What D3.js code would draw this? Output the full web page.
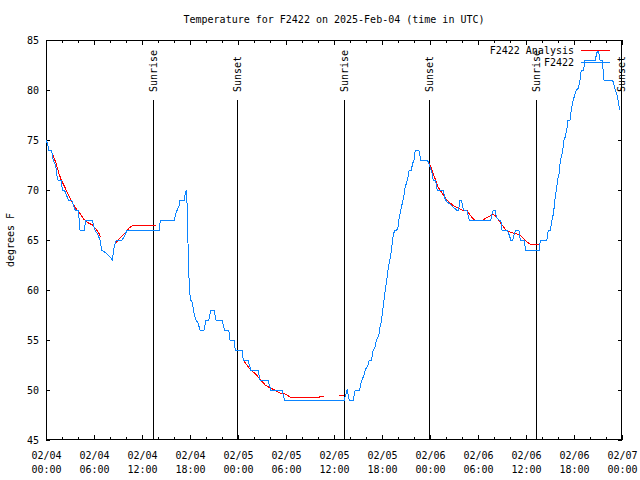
<!DOCTYPE html>
<html>
<head>
<meta charset="utf-8">
<script src="https://cdn.jsdelivr.net/npm/d3@7"></script>
<style>
  html, body { margin: 0; padding: 0; background: #fff; }
  svg { display: block; }
  text { font-family: "DejaVu Sans Mono", "Liberation Mono", monospace; font-size: 10px; fill: #000; }
</style>
</head>
<body>
<svg id="chart" width="640" height="480"></svg>
<script>
// ---------------- data (hours since 2025-02-04 00:00 UTC, degrees F) ----------------
const titleText = "Temperature for F2422 on 2025-Feb-04 (time in UTC)";
const yLabel = "degrees F";
const seriesNames = ["F2422 Analysis", "F2422"];
const yTicks = [45, 50, 55, 60, 65, 70, 75, 80, 85];
const majorTickHours = [0, 6, 12, 18, 24, 30, 36, 42, 48, 54, 60, 66, 72];
const minorTickHours = d3.range(0, 73, 2);
const sunEvents = [
  ["Sunrise", 13.4], ["Sunset", 23.9], ["Sunrise", 37.3],
  ["Sunset", 47.9], ["Sunrise", 61.3], ["Sunset", 71.9]
];

// observed F2422
const obsSeries = [
  [0.0,75],[0.2,74.6],[0.35,74],[0.7,74],[0.9,73],[1.2,72.5],[1.35,71.5],[1.5,71],[1.9,71],
  [2.05,70],[2.3,70],[2.55,69.5],[2.8,69],[3.2,69],[3.4,68.5],[3.65,68],[4.05,68],[4.25,66],
  [4.8,66],[4.95,67],[5.8,67],[5.95,66.5],[6.1,66],[6.45,65.6],[6.75,65],[6.95,64],[7.5,63.7],
  [8.0,63.3],[8.3,63],[8.45,64],[8.65,64.7],[8.8,65],[9.5,65],[9.9,65.5],[10.1,66],[14.15,66],
  [14.3,67],[16.05,67],[16.25,67.7],[16.4,68],[16.65,68.4],[16.75,69],[17.3,69],[17.4,69.7],
  [17.55,70],[17.65,68.3],[17.75,64.7],[17.85,62],[17.92,60],[18.1,59],[18.3,58.7],[18.5,57.7],
  [18.75,57],[19.0,56.7],[19.25,56],[19.75,56],[20.0,57],[20.35,57],[20.6,58],[21.0,58],
  [21.25,57],[22.0,57],[22.3,56],[22.85,56],[23.0,55],[23.5,55],[23.65,54],[24.5,54],[24.65,53],
  [25.25,53],[25.6,52],[26.5,52],[26.75,51],[27.75,51],[28.1,50],[29.5,50],[29.8,49],[37.3,49],
  [37.45,49.5],[37.65,50],[37.9,49],[38.4,49],[38.65,50],[39.2,50],[39.35,50.6],[39.5,51],
  [39.75,51.5],[39.9,52],[40.25,52.5],[40.4,53],[40.65,53],[40.8,53.5],[40.9,54],[41.15,54.3],
  [41.3,55],[41.6,55.5],[41.75,56.3],[41.9,56.8],[42.1,58],[42.25,59],[42.4,60],[42.6,61],
  [42.75,62],[42.9,62.7],[43.1,63.5],[43.25,64.5],[43.4,65.5],[43.6,66],[43.85,66],[44.0,66.3],
  [44.15,67.2],[44.35,68],[44.6,68.9],[44.75,69.5],[44.9,70.3],[45.1,70.8],[45.25,71.3],[45.4,72],
  [45.65,72],[45.85,72.7],[46.0,73],[46.15,74],[46.6,74],[46.85,73],[47.65,73],[47.85,72.7],
  [48.0,72.3],[48.25,71.7],[48.4,71],[48.65,71],[48.8,70.5],[48.9,70],[49.65,70],[49.85,69.2],
  [50.1,68.8],[50.5,68.6],[50.9,68.3],[51.3,68],[51.6,68],[51.7,69],[51.95,69],[52.1,68.2],
  [52.25,68],[52.6,68],[52.9,67],[55.6,67],[55.75,67.6],[55.9,68],[56.15,68],[56.3,67.3],
  [56.6,67],[56.85,67],[57.0,66],[57.65,66],[57.9,65.5],[58.1,65],[58.35,65],[58.55,65.6],
  [58.7,66],[59.1,66],[59.3,65],[59.75,65],[59.95,64],[61.65,64],[61.8,65],[62.6,65],[62.8,66],
  [63.05,66],[63.25,67],[63.45,67.7],[63.6,69],[63.8,70],[63.95,71],[64.15,71.7],[64.3,73],
  [64.55,73.7],[64.75,75],[64.9,75.3],[65.1,76],[65.25,77],[65.5,77],[65.65,78],[65.9,79],
  [66.3,80],[66.55,80.2],[66.75,81],[66.9,82],[67.2,82],[67.35,83],[68.65,83],[68.85,83.7],
  [69.0,84],[69.1,83.7],[69.25,83],[69.5,83],[69.6,82.3],[69.75,81],[70.8,81],[70.95,80.7],
  [71.15,80],[71.35,79.6],[71.5,79],[71.65,78.3],[71.75,78]
];

// analysis (null = gap)
const anaSeries = [
  [0.75,73.7],[1.25,72.7],[1.6,71.7],[1.9,71.0],[2.4,70.2],[3.0,69.2],[3.6,68.3],[4.2,67.7],
  [4.7,67.1],[5.3,66.7],[5.8,66.5],[6.25,66.1],[6.6,65.7],[6.8,65.3],[7.5,null],
  [8.7,64.7],[9.25,65.2],[9.9,65.7],[10.4,66.2],[10.75,66.4],[11.3,66.5],[13.8,66.5],[14.5,null],
  [24.75,52.9],[25.1,52.5],[25.6,52.0],[26.2,51.6],[26.75,51.1],[27.4,50.5],[28.0,50.2],
  [28.6,50.0],[29.25,49.7],[29.9,49.6],[30.5,49.3],[34.2,49.3],[34.75,49.4],[35.5,null],
  [36.65,49.5],[37.3,49.5],[38.0,null],
  [47.9,72.7],[48.3,71.9],[48.6,71.2],[49.0,70.3],[49.5,69.7],[50.0,69.1],[50.5,68.7],[51.0,68.4],
  [51.5,68.2],[52.0,68.0],[52.6,68.0],[53.0,67.5],[53.3,67.2],[53.6,67.0],[54.6,67.0],[55.0,67.2],
  [55.5,67.4],[55.9,67.6],[56.3,67.3],[56.75,66.8],[57.2,66.3],[57.6,65.9],[58.4,65.7],
  [59.25,65.5],[59.6,65.2],[60.1,64.8],[60.5,64.6],[61.7,64.6]
];

// ---------------- drawing ----------------
const t0 = Date.UTC(2025, 1, 4, 0, 0);
const toDate = h => new Date(t0 + h * 3600 * 1000);

const svg = d3.select("#chart");
const pLeft = 46, pRight = 622, pTop = 40, pBottom = 440;

const x = d3.scaleUtc().domain([toDate(0), toDate(72)]).range([pLeft, pRight]);
const y = d3.scaleLinear().domain([45, 85]).range([pBottom, pTop]);

// title
svg.append("text").attr("x", 334).attr("y", 23).attr("text-anchor", "middle").text(titleText);

// y label
svg.append("text")
  .attr("transform", "translate(14,240) rotate(-90)")
  .attr("text-anchor", "middle").text(yLabel);

const fmtDate = d3.utcFormat("%m/%d");
const fmtTime = d3.utcFormat("%H:%M");

// bottom axis major
const gB = svg.append("g").attr("transform", `translate(0,${pBottom})`)
  .call(d3.axisBottom(x).tickValues(majorTickHours.map(toDate)).tickSizeInner(-5).tickSizeOuter(0).tickFormat(""));
gB.selectAll(".tick text").each(function(d) {
  const t = d3.select(this).attr("y", 0).attr("dy", null);
  t.append("tspan").attr("x", 0).attr("y", 18.5).text(fmtDate(d));
  t.append("tspan").attr("x", 0).attr("y", 32.5).text(fmtTime(d));
});
// bottom minor
svg.append("g").attr("transform", `translate(0,${pBottom})`)
  .call(d3.axisBottom(x).tickValues(minorTickHours.map(toDate)).tickSizeInner(-3).tickSizeOuter(0).tickFormat(""));
// top axis
svg.append("g").attr("transform", `translate(0,${pTop})`)
  .call(d3.axisTop(x).tickValues(majorTickHours.map(toDate)).tickSizeInner(-5).tickSizeOuter(0).tickFormat(""));
svg.append("g").attr("transform", `translate(0,${pTop})`)
  .call(d3.axisTop(x).tickValues(minorTickHours.map(toDate)).tickSizeInner(-3).tickSizeOuter(0).tickFormat(""));
// left axis
svg.append("g").attr("transform", `translate(${pLeft},0)`)
  .call(d3.axisLeft(y).tickValues(yTicks).tickSizeInner(-4).tickSizeOuter(0).tickPadding(7).tickFormat(d3.format("d")));
// right axis
svg.append("g").attr("transform", `translate(${pRight},0)`)
  .call(d3.axisRight(y).tickValues(yTicks).tickSizeInner(-4).tickSizeOuter(0).tickFormat(""));

svg.selectAll(".domain").remove();
svg.selectAll(".tick line").attr("stroke", "#000").attr("shape-rendering", "crispEdges");
svg.selectAll("g text").attr("font-family", null).attr("font-size", null).attr("fill", "#000");
svg.selectAll("g").attr("font-family", null).attr("font-size", null);

// border
svg.append("rect").attr("x", pLeft + 0.5).attr("y", pTop + 0.5)
  .attr("width", pRight - pLeft - 1).attr("height", pBottom - pTop - 1)
  .attr("fill", "none").attr("stroke", "#000").attr("shape-rendering", "crispEdges");

// sunrise/sunset lines
const sg = svg.append("g");
sunEvents.forEach(([name, h]) => {
  const sx = Math.round(x(toDate(h))) + 0.5;
  sg.append("line").attr("x1", sx).attr("x2", sx).attr("y1", 100).attr("y2", pBottom)
    .attr("stroke", "#000").attr("stroke-width", 1).attr("shape-rendering", "crispEdges");
  sg.append("text").attr("transform", `translate(${sx},92) rotate(-90)`)
    .attr("dy", "0.35em").attr("text-anchor", "start").text(name);
});

// lines
const line = d3.line()
  .defined(d => d[1] !== null)
  .x(d => x(toDate(d[0])))
  .y(d => y(d[1]));

svg.append("path").datum(anaSeries).attr("d", line)
  .attr("fill", "none").attr("stroke", "#ff0000").attr("stroke-width", 1)
  .attr("shape-rendering", "crispEdges");
svg.append("path").datum(obsSeries).attr("d", line)
  .attr("fill", "none").attr("stroke", "#0a84ff").attr("stroke-width", 1)
  .attr("shape-rendering", "crispEdges");

// legend
const legend = svg.append("g");
const colors = ["#ff0000", "#0a84ff"];
seriesNames.forEach((n, i) => {
  const ly = 50 + i * 12;
  legend.append("text").attr("x", 574).attr("y", ly).attr("dy", "0.35em")
    .attr("text-anchor", "end").text(n);
  legend.append("line").attr("x1", 581).attr("x2", 610).attr("y1", ly + 0.5).attr("y2", ly + 0.5)
    .attr("stroke", colors[i]).attr("stroke-width", 1).attr("shape-rendering", "crispEdges");
});
</script>
</body>
</html>
